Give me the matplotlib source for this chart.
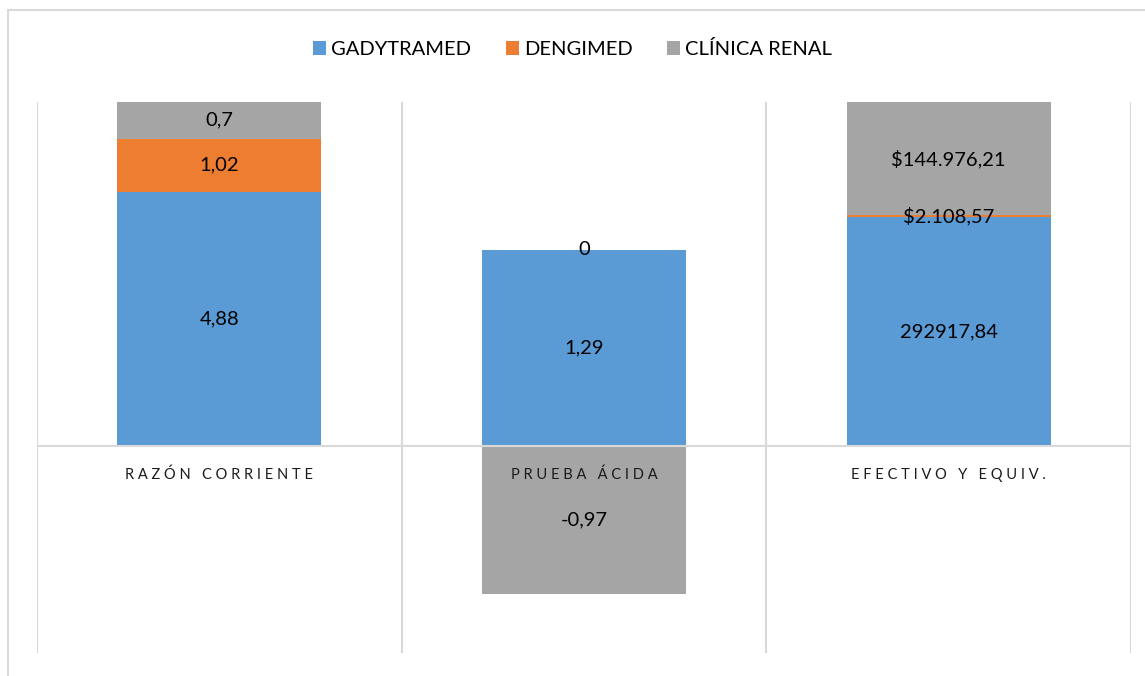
import numpy as np
import matplotlib
matplotlib.use("Agg")
import matplotlib.pyplot as plt
from matplotlib.patches import Rectangle

plt.rcParams['font.family'] = ['Lato', 'DejaVu Sans']

# datos
categorias = ['RAZÓN CORRIENTE', 'PRUEBA ÁCIDA', 'EFECTIVO Y EQUIV.']
series = ['GADYTRAMED', 'DENGIMED', 'CLÍNICA RENAL']
gadytramed = [4.88, 1.29, 292917.84]
dengimed = [1.02, 0.0, 2108.57]
clinica = [0.7, -0.97, 144976.21]
etiquetas = [
    ['4,88', '1,29', '292917,84'],
    ['1,02', '0', '$2.108,57'],
    ['0,7', '-0,97', '$144.976,21'],
]
colores = ['#5B9BD5', '#ED7D31', '#A5A5A5']

valores = np.array([gadytramed, dengimed, clinica])
# 100% apilado (como Excel): cada valor sobre la suma de absolutos
totales = np.abs(valores).sum(axis=0)
pct = valores / totales

fig = plt.figure(figsize=(11.45, 6.76), dpi=100)
# borde del área del gráfico
fig.patches.append(Rectangle((7.5 / 1145, -0.01), 1.1, 1 - 10 / 676 + 0.01,
                             transform=fig.transFigure, fill=False,
                             edgecolor='#D9D9D9', lw=1.5))
ax = fig.add_axes([37 / 1145, 1 - 653 / 676, (1131 - 37) / 1145, (653 - 102) / 676])

x = np.arange(len(categorias))
ancho = 0.56
pos_base = np.zeros(len(categorias))
neg_base = np.zeros(len(categorias))
for i, nombre in enumerate(series):
    p = pct[i]
    base = np.where(p >= 0, pos_base, neg_base)
    ax.bar(x, p, ancho, bottom=base, color=colores[i], label=nombre, zorder=2)
    for j in range(len(categorias)):
        ax.text(x[j], base[j] + p[j] / 2, etiquetas[i][j], ha='center', va='center',
                fontsize=14.5, color='black', zorder=4)
    pos_base = pos_base + np.where(p >= 0, p, 0)
    neg_base = neg_base + np.where(p < 0, p, 0)

ax.set_xlim(-0.5, len(categorias) - 0.5)
ax.set_ylim(-0.6, 1.0)
for b in np.arange(-0.5, len(categorias), 1.0):
    ax.axvline(b, color='#D9D9D9', lw=1.5, zorder=1)
ax.axhline(0, color='#D9D9D9', lw=1.5, zorder=3)
for s in ax.spines.values():
    s.set_visible(False)
ax.set_xticks([])
ax.set_yticks([])

# etiquetas de categoría con espaciado entre letras
for j, cat in enumerate(categorias):
    ax.annotate(' '.join(cat), (x[j], 0), xytext=(0, -20.5), textcoords='offset points',
                ha='center', va='center', fontsize=10.5, color='#1a1a1a', zorder=4)

fig.legend(loc='center', bbox_to_anchor=(0.5, 1 - 49 / 676), ncol=3, frameon=False,
           fontsize=14.5, handlelength=0.65, handleheight=0.65, handletextpad=0.25,
           columnspacing=1.7)

fig.savefig('out.png', dpi=100)
